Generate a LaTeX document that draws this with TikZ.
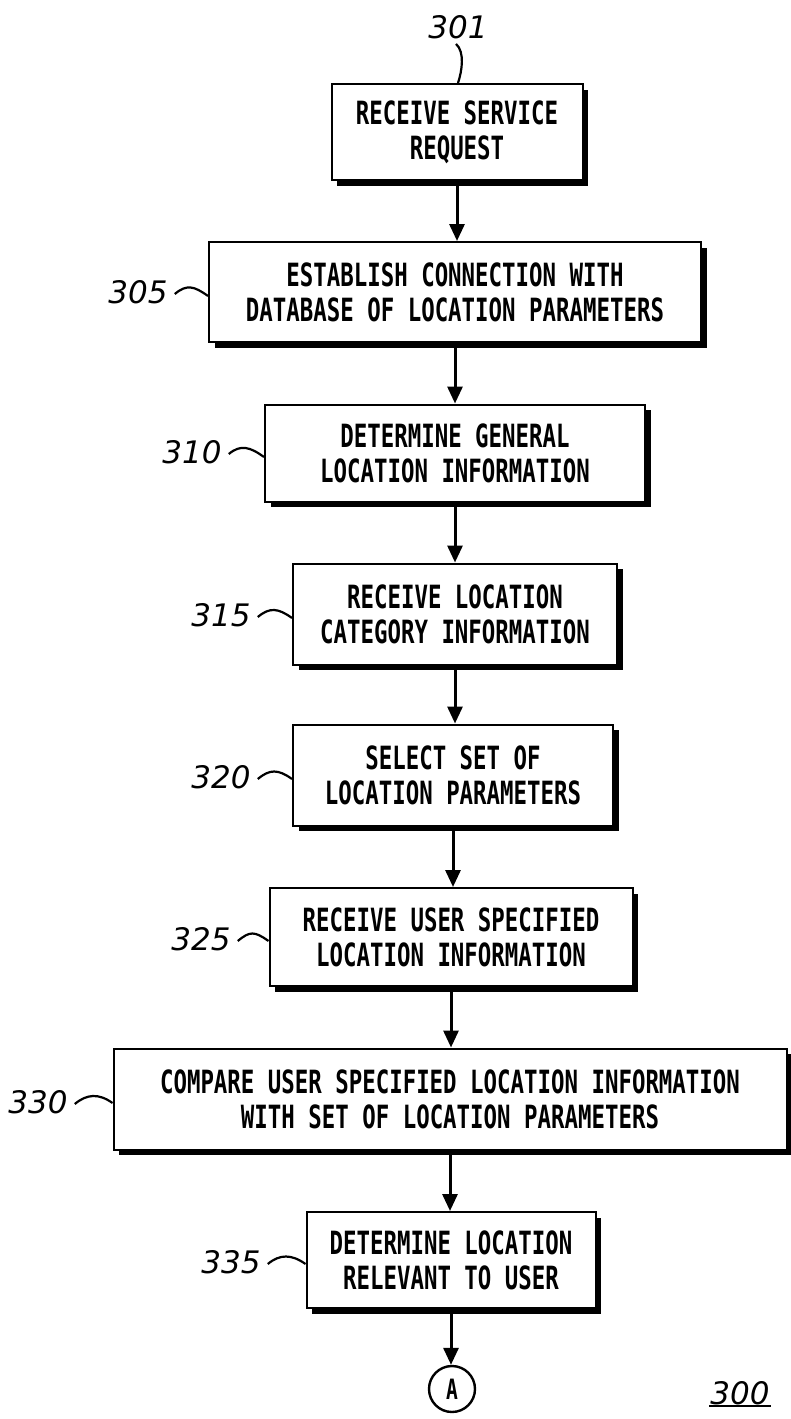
\documentclass[tikz,border=0pt]{standalone}
\usepackage{fontspec}
\newfontfamily\boxfont{DejaVu Sans Mono}[FakeStretch=0.70]
\newfontfamily\labfont{DejaVu Sans}
\usetikzlibrary{arrows.meta,shadows}
\tikzset{
  stepbox/.style={draw, line width=2pt, fill=white, inner sep=0pt, align=center,
    font=\boxfont\bfseries\fontsize{32}{35}\selectfont,
    drop shadow={shadow xshift=5.5pt, shadow yshift=-5.5pt, opacity=1, fill=black}},
  reflabel/.style={font=\labfont\itshape\fontsize{31}{36}\selectfont, inner sep=1pt},
  flow/.style={line width=3pt, -{Triangle[width=15pt,length=17pt]}},
  leader/.style={line width=2.2pt}
}
\begin{document}
\begin{tikzpicture}[x=1pt,y=-1pt]
\useasboundingbox[fill=white] (0,0) rectangle (790,1419);

% boxes
\node[stepbox, minimum width=251, minimum height=96] (B1) at (457,132) {RECEIVE SERVICE\\REQUEST};
\node[stepbox, minimum width=492, minimum height=100] (B2) at (455,292) {ESTABLISH CONNECTION WITH\\DATABASE OF LOCATION PARAMETERS};
\node[stepbox, minimum width=380, minimum height=97] (B3) at (455,453) {DETERMINE GENERAL\\LOCATION INFORMATION};
\node[stepbox, minimum width=324, minimum height=101] (B4) at (455,614) {RECEIVE LOCATION\\CATEGORY INFORMATION};
\node[stepbox, minimum width=320, minimum height=101] (B5) at (453,775) {SELECT SET OF\\LOCATION PARAMETERS};
\node[stepbox, minimum width=363, minimum height=98] (B6) at (451,937) {RECEIVE USER SPECIFIED\\LOCATION INFORMATION};
\node[stepbox, minimum width=673, minimum height=101] (B7) at (450,1099) {COMPARE USER SPECIFIED LOCATION INFORMATION\\WITH SET OF LOCATION PARAMETERS};
\node[stepbox, minimum width=289, minimum height=96] (B8) at (451,1260) {DETERMINE LOCATION\\RELEVANT TO USER};
\node[draw, circle, line width=2.4pt, minimum size=46pt, inner sep=0pt,
      font=\boxfont\bfseries\fontsize{28}{30}\selectfont] (A) at (452,1389) {A};

% flow arrows
\draw[flow] (B1.south) -- (B1.south |- B2.north);
\draw[flow] (B2.south) -- (B2.south |- B3.north);
\draw[flow] (B3.south) -- (B3.south |- B4.north);
\draw[flow] (B4.south) -- (B4.south |- B5.north);
\draw[flow] (B5.south) -- (B5.south |- B6.north);
\draw[flow] (B6.south) -- (B6.south |- B7.north);
\draw[flow] (B7.south) -- (B7.south |- B8.north);
\draw[flow] (B8.south) -- (B8.south |- A.north);

% reference labels
\node[reflabel] (l301) at (458,27) {301};
\node[reflabel] (l305) at (138,292) {305};
\node[reflabel] (l310) at (192,452) {310};
\node[reflabel] (l315) at (221,615) {315};
\node[reflabel] (l320) at (221,777) {320};
\node[reflabel] (l325) at (201,939) {325};
\node[reflabel] (l330) at (38,1102) {330};
\node[reflabel] (l335) at (231,1262) {335};
\node[reflabel] (l300) at (740,1393) {300};
\draw[line width=2pt] (l300.south west) -- (l300.south east);

% leaders
\coordinate (t301) at (B1.north -| l301.south);
\draw[leader] ([shift={(-2,4)}]l301.south) .. controls +(9,8) and +(4,-12) .. (t301);
\foreach \l/\b in {305/B2,310/B3,315/B4,320/B5,325/B6,330/B7,335/B8}{
  \draw[leader] ([shift={(6,2)}]l\l.east) .. controls +(12,-10) and +(-14,-10) .. ([shift={(0,4)}]\b.west);
}
\end{tikzpicture}
\end{document}
